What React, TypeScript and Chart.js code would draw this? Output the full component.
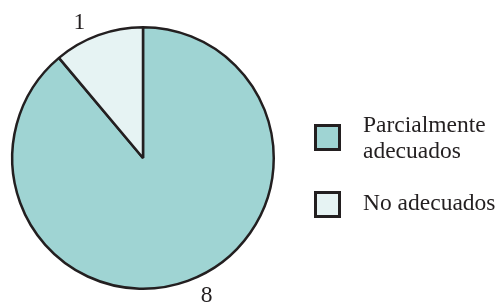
import { useEffect, useRef } from "react";
import { Chart, registerables } from "chart.js";

Chart.register(...registerables);

const categories = ["Parcialmente adecuados", "No adecuados"];
const legendLines = [["Parcialmente", "adecuados"], ["No adecuados"]];
const values = [8, 1];
const colors = ["#9fd4d3", "#e6f3f3"];
const edge = "#231f20";
const FONT = '"Liberation Serif", "Times New Roman", serif';
const FONT_SIZE = 23.5;

const outerLabels = {
  id: "outerLabels",
  afterDatasetsDraw(chart: any) {
    const ctx = chart.ctx;
    const meta = chart.getDatasetMeta(0);
    ctx.save();
    ctx.font = `${FONT_SIZE}px ${FONT}`;
    ctx.fillStyle = edge;
    ctx.textAlign = "center";
    ctx.textBaseline = "middle";
    meta.data.forEach((arc: any, i: number) => {
      const p = arc.getProps(["startAngle", "endAngle", "outerRadius", "x", "y"], true);
      const mid = (p.startAngle + p.endAngle) / 2 - (5 * Math.PI) / 180;
      const r = p.outerRadius + 20;
      ctx.fillText(String(values[i]), p.x + Math.cos(mid) * r, p.y + Math.sin(mid) * r + 1);
    });

    // legend
    const boxX = 314;
    const boxSize = 27;
    const textX = 363;
    const boxTops = [124, 191];
    const baselines = [[132, 158], [210]];
    ctx.textAlign = "left";
    ctx.textBaseline = "alphabetic";
    categories.forEach((_, i) => {
      ctx.fillStyle = colors[i];
      ctx.fillRect(boxX, boxTops[i], boxSize, boxSize);
      ctx.lineWidth = 3;
      ctx.strokeStyle = edge;
      ctx.strokeRect(boxX + 1.5, boxTops[i] + 1.5, boxSize - 3, boxSize - 3);
      ctx.fillStyle = edge;
      legendLines[i].forEach((line, j) => {
        ctx.fillText(line, textX, baselines[i][j]);
      });
    });
    ctx.restore();
  },
};

export default function App() {
  const ref = useRef<HTMLCanvasElement | null>(null);
  useEffect(() => {
    if (!ref.current) return;
    const chart = new Chart(ref.current, {
      type: "pie",
      data: {
        labels: categories,
        datasets: [
          {
            data: values,
            backgroundColor: colors,
            borderColor: edge,
            borderWidth: 2.5,
          },
        ],
      },
      options: {
        responsive: false,
        animation: false,
        layout: { padding: { left: 10, right: 223, top: 26, bottom: 12 } },
        plugins: {
          legend: { display: false },
          tooltip: { enabled: false },
        },
      },
      plugins: [outerLabels],
    });
    return () => chart.destroy();
  }, []);
  return (
    <div style={{ position: "fixed", left: 0, top: 0, width: 499, height: 302, background: "#fff" }}>
      <canvas ref={ref} width={499} height={302} style={{ width: 499, height: 302 }} />
    </div>
  );
}
